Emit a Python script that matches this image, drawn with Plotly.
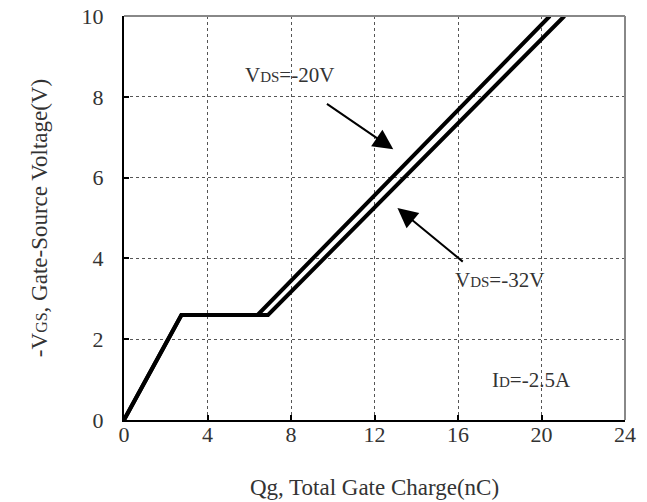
import plotly.graph_objects as go

# Data
qg_20 = [0, 2.75, 6.4, 20.4]
vgs_20 = [0, 2.6, 2.6, 10]
qg_32 = [0, 2.75, 6.9, 21.1]
vgs_32 = [0, 2.6, 2.6, 10]

x_ticks = [0, 4, 8, 12, 16, 20, 24]
y_ticks = [0, 2, 4, 6, 8, 10]

FONT = "Liberation Serif"
TXT = "#333"

fig = go.Figure()
fig.add_trace(go.Scatter(x=qg_32, y=vgs_32, mode="lines",
                         line=dict(color="black", width=4), showlegend=False))
fig.add_trace(go.Scatter(x=qg_20, y=vgs_20, mode="lines",
                         line=dict(color="black", width=4), showlegend=False))

def small(s, size=15):
    return "<span style='font-size:%dpx'>%s</span>" % (size, s)

fig.update_layout(
    width=647, height=502,
    margin=dict(l=124, r=22, t=16, b=82),
    paper_bgcolor="white", plot_bgcolor="white",
    font=dict(family=FONT, size=22, color=TXT),
    xaxis=dict(range=[0, 24], tickvals=x_ticks, ticks="inside", ticklen=5,
               tickwidth=2, tickcolor="black", automargin=False,
               showgrid=True, gridcolor="#555", griddash="dot", gridwidth=1,
               showline=True, linecolor="black", linewidth=2,
               zeroline=False, tickfont=dict(size=22, family=FONT, color=TXT),
               ticklabelstandoff=-6,
               title=dict(text="Qg, Total Gate Charge(nC)", standoff=32,
                          font=dict(size=23, family=FONT, color=TXT))),
    yaxis=dict(range=[0, 10], tickvals=y_ticks, ticks="inside", ticklen=5,
               tickwidth=2, tickcolor="black", automargin=False,
               showgrid=True, gridcolor="#555", griddash="dot", gridwidth=1,
               showline=True, linecolor="black", linewidth=2,
               zeroline=False, tickfont=dict(size=22, family=FONT, color=TXT),
               ticklabelstandoff=14,
               title=dict(text="-V" + small("GS", 16) + ", Gate-Source Voltage(V)",
                          standoff=28, font=dict(size=23, family=FONT, color=TXT))),
)

# top and right border (gray)
fig.add_shape(type="line", xref="paper", yref="paper", x0=0, x1=1, y0=1, y1=1,
              line=dict(color="#888", width=2))
fig.add_shape(type="line", xref="paper", yref="paper", x0=1, x1=1, y0=0, y1=1,
              line=dict(color="#888", width=2))

# Labels
fig.add_annotation(x=7.95, y=8.54, text="V" + small("DS") + "=-20V",
                   showarrow=False, font=dict(size=21, family=FONT, color=TXT))
fig.add_annotation(x=18.0, y=3.47, text="V" + small("DS") + "=-32V",
                   showarrow=False, font=dict(size=21, family=FONT, color=TXT))
fig.add_annotation(x=19.5, y=0.99, text="I" + small("D") + "=-2.5A",
                   showarrow=False, font=dict(size=21, family=FONT, color=TXT))

# Arrows
fig.add_annotation(x=12.9, y=6.7, ax=9.65, ay=7.85, xref="x", yref="y",
                   axref="x", ayref="y", text="", showarrow=True,
                   arrowhead=2, arrowsize=2, arrowwidth=2, arrowcolor="black")
fig.add_annotation(x=13.1, y=5.25, ax=16.3, ay=3.89, xref="x", yref="y",
                   axref="x", ayref="y", text="", showarrow=True,
                   arrowhead=2, arrowsize=2, arrowwidth=2, arrowcolor="black")

fig.write_html("out.html", config={"displayModeBar": False},
               post_script="document.body.style.margin='0px';document.body.style.overflow='hidden';")
